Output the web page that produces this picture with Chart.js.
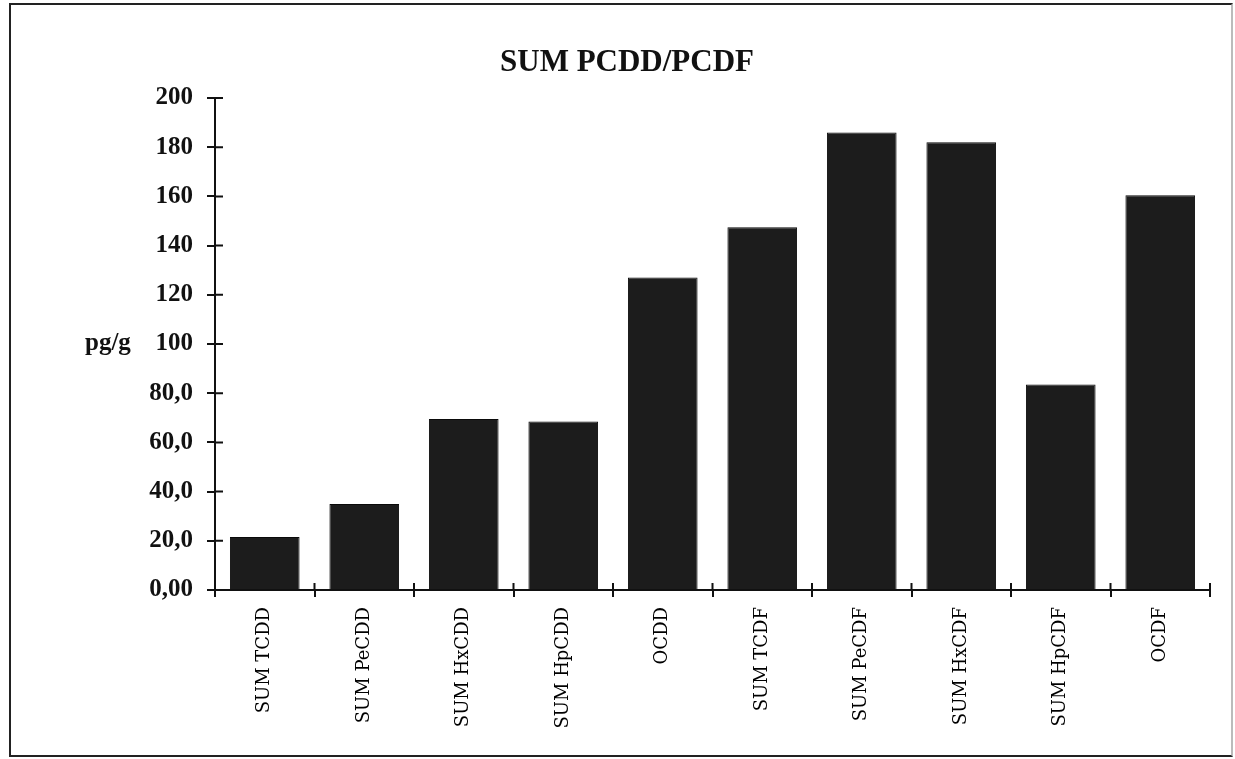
<!DOCTYPE html>
<html>
<head>
<meta charset="utf-8">
<script src="https://cdn.jsdelivr.net/npm/chart.js@4"></script>
<style>
  body { margin: 0; background: #fff; }
  #wrap { position: absolute; left: 0; top: 0; width: 1235px; height: 759px; }
  #frame {
    position: absolute; left: 9px; top: 3px; width: 1224px; height: 754px;
    box-sizing: border-box; border: 2px solid #222; border-right-color: #bbb;
    pointer-events: none;
  }
</style>
</head>
<body>
<div id="wrap"><canvas id="pcddChart" width="1235" height="759"></canvas></div>
<div id="frame"></div>
<script>
let pcddChart = document.getElementById('pcddChart');

let categories = [ 'SUM TCDD', 'SUM PeCDD', 'SUM HxCDD', 'SUM HpCDD', 'OCDD',
                   'SUM TCDF', 'SUM PeCDF', 'SUM HxCDF', 'SUM HpCDF', 'OCDF' ];
let values = [ 21.5, 35, 69.5, 68.5, 127, 147.5, 186, 182, 83.5, 160.5 ];
let yTickLabels = [ '0,00', '20,0', '40,0', '60,0', '80,0', '100', '120', '140', '160', '180', '200' ];
let chartTitle = 'SUM PCDD/PCDF';
let unitLabel = 'pg/g';

// title, unit text and the inner half of the crossing tick marks
let extras = {
    id: 'extras',
    afterDraw(chart) {
        let ctx = chart.ctx;
        let x = chart.scales.x;
        let y = chart.scales.y;
        let area = chart.chartArea;
        ctx.save();
        ctx.fillStyle = '#111';
        ctx.font = 'bold 31px "Liberation Serif"';
        ctx.textAlign = 'center';
        ctx.textBaseline = 'alphabetic';
        ctx.fillText(chartTitle, 627, 71);
        ctx.font = 'bold 25px "Liberation Serif"';
        ctx.textAlign = 'left';
        ctx.textBaseline = 'middle';
        ctx.fillText(unitLabel, 85, y.getPixelForValue(100));

        ctx.strokeStyle = '#111';
        ctx.lineWidth = 2;
        ctx.beginPath();
        for (let i = 0; i < yTickLabels.length; i++) {
            let py = y.getPixelForTick(i);
            ctx.moveTo(area.left, py);
            ctx.lineTo(area.left + 8, py);
        }
        let step = x.getPixelForValue(1) - x.getPixelForValue(0);
        for (let i = 1; i <= categories.length; i++) {
            let px = x.getPixelForValue(i) - step / 2;
            ctx.moveTo(px, area.bottom);
            ctx.lineTo(px, area.bottom - 7);
        }
        ctx.stroke();
        ctx.restore();
    }
};

new Chart(pcddChart, {
    type: 'bar',
    data: {
        labels: categories,
        datasets: [{
            data: values,
            backgroundColor: '#1c1c1c',
            borderColor: '#0a0a0a',
            borderWidth: 1,
            barPercentage: 0.7,
            categoryPercentage: 1
        }]
    },
    plugins: [ extras ],
    options: {
        responsive: false,
        animation: false,
        layout: {
            padding: { left: 0, right: 25, top: 98, bottom: 0 }
        },
        plugins: {
            legend: { display: false },
            title: { display: false },
            tooltip: { enabled: false }
        },
        scales: {
            x: {
                afterFit: (scale) => { scale.height = 169; },
                grid: {
                    offset: true,
                    drawOnChartArea: false,
                    drawTicks: true,
                    tickLength: 7,
                    color: '#111',
                    lineWidth: 2
                },
                border: { display: true, color: '#111', width: 2 },
                ticks: {
                    minRotation: 90,
                    maxRotation: 90,
                    autoSkip: false,
                    padding: 10,
                    color: '#000',
                    font: { family: '"DejaVu Serif"', size: 18 }
                }
            },
            y: {
                min: 0,
                max: 200,
                afterFit: (scale) => { scale.width = 215; },
                grid: {
                    drawOnChartArea: false,
                    drawTicks: true,
                    tickLength: 8,
                    color: '#111',
                    lineWidth: 2
                },
                border: { display: true, color: '#111', width: 2 },
                ticks: {
                    stepSize: 20,
                    padding: 14,
                    color: '#111',
                    font: { family: '"Liberation Serif"', size: 25, weight: 'bold' },
                    callback: (value, index) => yTickLabels[index]
                }
            }
        }
    }
});
</script>
</body>
</html>
